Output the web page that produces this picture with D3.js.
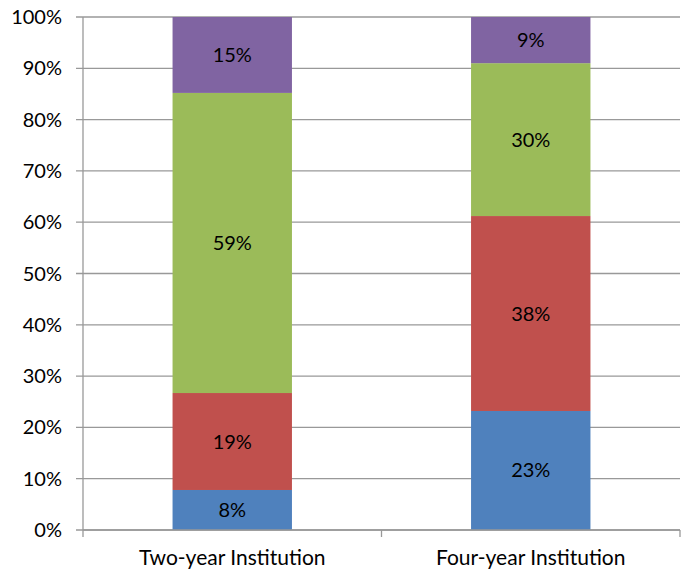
<!DOCTYPE html>
<html>
<head>
<meta charset="utf-8">
<script src="https://cdn.jsdelivr.net/npm/d3@7"></script>
<style>
  body { margin: 0; background: #fff; }
  text { font-family: Lato, "Open Sans", sans-serif; fill: #000; }
</style>
</head>
<body>
<div id="chart"></div>
<script>
// Datos
const categories = ["Two-year Institution", "Four-year Institution"];
const seriesNames = ["Serie 1", "Serie 2", "Serie 3", "Serie 4"];
const seriesColors = ["#4F81BD", "#C0504D", "#9BBB59", "#8064A2"];
const twoYear = [7.8, 18.9, 58.5, 14.8];
const fourYear = [23.2, 38.0, 29.8, 9.0];
const yTicks = [0, 10, 20, 30, 40, 50, 60, 70, 80, 90, 100];

const width = 689, height = 569;
const margin = { top: 17, right: 9, bottom: 39, left: 83 };
const innerW = width - margin.left - margin.right;
const innerH = height - margin.top - margin.bottom;

const svg = d3.select("#chart").append("svg")
    .attr("width", width)
    .attr("height", height);

const g = svg.append("g")
    .attr("transform", `translate(${margin.left},${margin.top})`);

const x = d3.scaleBand()
    .domain(categories)
    .range([0, innerW])
    .paddingInner(0.6)
    .paddingOuter(0.3);

const xOuter = d3.scaleBand().domain(categories).range([0, innerW]);

const y = d3.scaleLinear().domain([0, 100]).range([innerH, 0]);

// Líneas de la cuadrícula
g.selectAll(".grid")
    .data(yTicks)
    .enter()
    .append("line")
    .attr("x1", -7)
    .attr("x2", innerW)
    .attr("y1", d => y(d))
    .attr("y2", d => y(d))
    .attr("stroke", "#999")
    .attr("stroke-width", 1.3);

// Etiquetas del eje Y
g.selectAll(".ylab")
    .data(yTicks)
    .enter()
    .append("text")
    .attr("x", -21)
    .attr("y", d => y(d))
    .attr("dy", "0.35em")
    .attr("text-anchor", "end")
    .style("font-size", "20px")
    .text(d => d + "%");

// Apilar datos
const table = categories.map((c, i) => {
    const row = { cat: c };
    const vals = i === 0 ? twoYear : fourYear;
    seriesNames.forEach((s, j) => row[s] = vals[j]);
    return row;
});
const stacked = d3.stack().keys(seriesNames)(table);

const layers = g.selectAll(".layer")
    .data(stacked)
    .enter()
    .append("g")
    .attr("fill", (d, i) => seriesColors[i]);

layers.selectAll("rect")
    .data(d => d)
    .enter()
    .append("rect")
    .attr("x", d => x(d.data.cat))
    .attr("width", x.bandwidth())
    .attr("y", d => y(d[1]))
    .attr("height", d => y(d[0]) - y(d[1]));

layers.selectAll("text")
    .data(d => d)
    .enter()
    .append("text")
    .attr("x", d => x(d.data.cat) + x.bandwidth() / 2)
    .attr("y", d => (y(d[0]) + y(d[1])) / 2)
    .attr("dy", "0.35em")
    .attr("text-anchor", "middle")
    .style("font-size", "20px")
    .text(d => Math.round(d[1] - d[0]) + "%");

// Eje Y y eje X
g.append("line")
    .attr("x1", 0).attr("x2", 0)
    .attr("y1", 0).attr("y2", innerH)
    .attr("stroke", "#999").attr("stroke-width", 1.3);

g.append("line")
    .attr("x1", 0).attr("x2", innerW)
    .attr("y1", innerH).attr("y2", innerH)
    .attr("stroke", "#999").attr("stroke-width", 1.3);

const xTickPos = [0].concat(categories.map(c => xOuter(c) + xOuter.bandwidth()));
g.selectAll(".xtick")
    .data(xTickPos)
    .enter()
    .append("line")
    .attr("x1", d => d).attr("x2", d => d)
    .attr("y1", innerH).attr("y2", innerH + 7)
    .attr("stroke", "#999").attr("stroke-width", 1.3);

g.selectAll(".xlab")
    .data(categories)
    .enter()
    .append("text")
    .attr("x", d => xOuter(d) + xOuter.bandwidth() / 2)
    .attr("y", innerH + 35)
    .attr("text-anchor", "middle")
    .style("font-size", "21px")
    .text(d => d);
</script>
</body>
</html>
